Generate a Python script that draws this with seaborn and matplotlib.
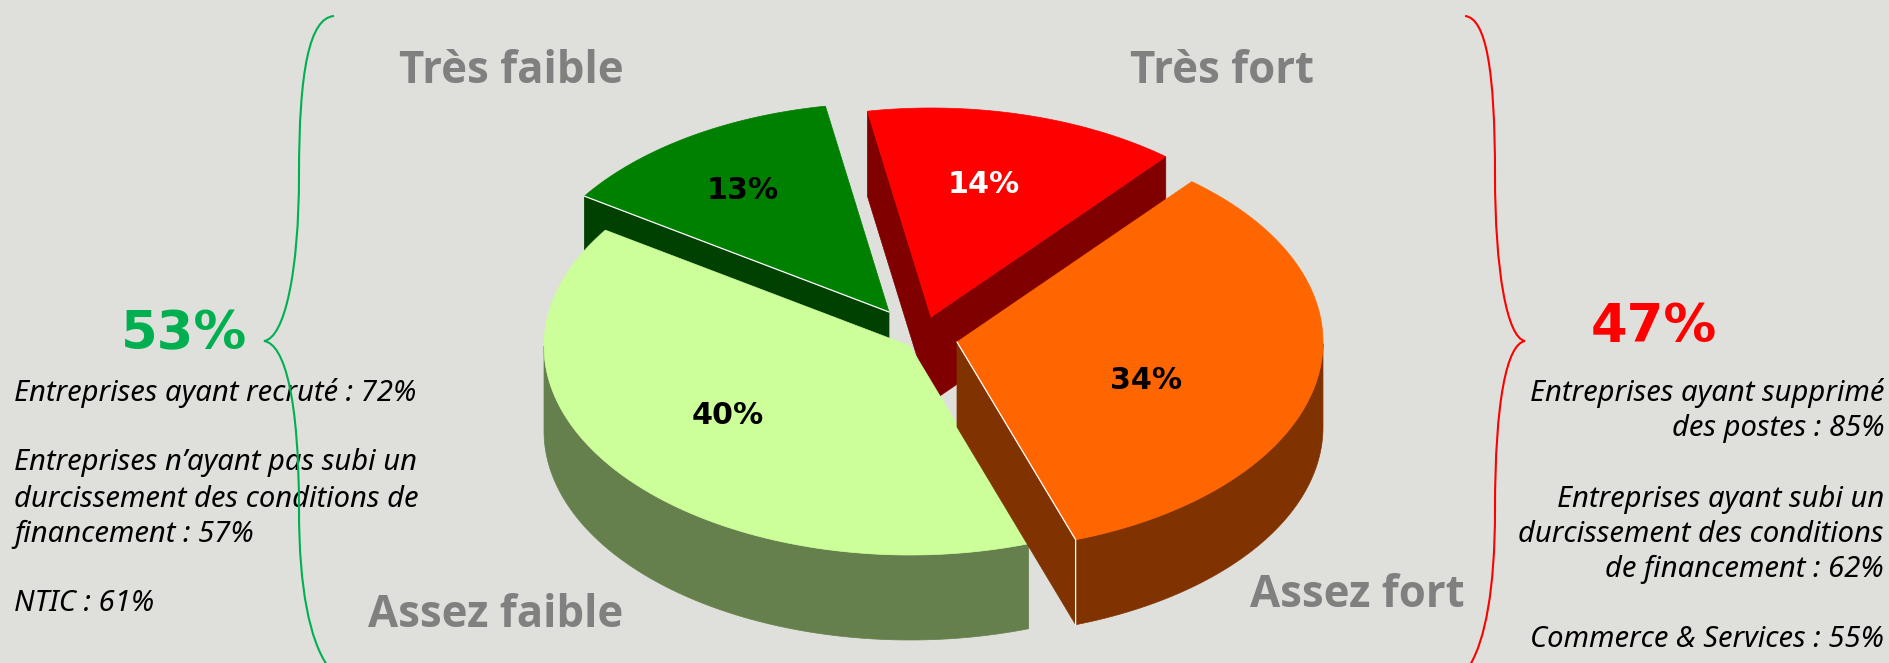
# 3D exploded pie: firms by level of difficulty, with summary text on each side

import numpy as np
import matplotlib
matplotlib.use("Agg")
import matplotlib.pyplot as plt
from matplotlib.patches import PathPatch, Polygon
from matplotlib.path import Path
import seaborn as sns

# Data
categories = ["Très fort", "Assez fort", "Assez faible", "Très faible"]
values = [14, 34, 40, 13]
value_labels = ["14%", "34%", "40%", "13%"]
left_total = "53%"
right_total = "47%"
left_lines = ["Entreprises ayant recruté : 72%",
              "Entreprises n’ayant pas subi un",
              "durcissement des conditions de",
              "financement : 57%",
              "NTIC : 61%"]
right_lines = ["Entreprises ayant supprimé",
               "des postes : 85%",
               "Entreprises ayant subi un",
               "durcissement des conditions",
               "de financement : 62%",
               "Commerce & Services : 55%"]

# Colours
bg = "#DFE0DB"
top_colors = sns.color_palette(["#FF0000", "#FF6600", "#CCFF99", "#008000"])
wall_colors = sns.color_palette(["#800000", "#803300", "#66804D", "#004000"])
value_colors = ["white", "black", "black", "black"]
grey = "#808080"
green = "#00B050"
red = "#FF0000"

# Layout, in pixels of the 1889x663 picture
rx, ry, depth = 366, 209, 85
start_angle = 100
slice_centres = [(931, 317), (957, 342), (910, 346), (889, 312)]
value_pos = [(984, 193), (1146, 389), (728, 424), (743, 199)]
cat_pos = [(1222, 83), (1357, 607), (496, 627), (511, 83)]
left_y = [401, 470, 507, 542, 611]
right_y = [401, 436, 507, 542, 577, 647]

sns.set_theme(style="white", rc={"figure.facecolor": bg, "axes.facecolor": bg})
plt.rcParams["font.family"] = ["Noto Sans", "DejaVu Sans"]
label_font = ["Open Sans", "DejaVu Sans"]

fig, ax = plt.subplots(figsize=(18.89, 6.63), dpi=100)
ax.set_position([0, 0, 1, 1])
ax.set_xlim(0, 1889)
ax.set_ylim(663, 0)
ax.axis("off")


def rim(centre, angles):
    a = np.radians(angles)
    return np.column_stack([centre[0] + rx * np.cos(a), centre[1] - ry * np.sin(a)])


def wall(points, color, z):
    low = points[::-1] + [0, depth]
    ax.add_patch(Polygon(np.vstack([points, low]), closed=True, fc=color, ec=color, lw=0.5, zorder=z))


# slice angles come from the values, running clockwise
shares = np.array(values) / sum(values) * 360
ends = start_angle - np.cumsum(shares)
starts = ends + shares

# painter's order: back slices first
for z, i in enumerate([3, 0, 2, 1]):
    centre = slice_centres[i]
    a0, a1 = starts[i], ends[i]
    arc = np.linspace(a0, a1, 200)
    outer = rim(centre, arc)
    apex = np.array(centre, dtype=float)
    z = z * 3 + 2

    # side walls that face the viewer
    if np.cos(np.radians(a0)) < 0:
        wall(np.array([apex, outer[0]]), wall_colors[i], z)
    if np.cos(np.radians(a1)) > 0:
        wall(np.array([apex, outer[-1]]), wall_colors[i], z)
    visible = np.sin(np.radians(arc)) <= 0
    if visible.any():
        wall(outer[visible], wall_colors[i], z)

    ax.add_patch(Polygon(np.vstack([apex, outer]), closed=True, fc=top_colors[i],
                         ec=top_colors[i], lw=0.5, zorder=z + 1))

    # thin white seams
    if categories[i] == "Assez fort":
        seam = outer[-1]
        ax.plot([apex[0], seam[0], seam[0]], [apex[1], seam[1], seam[1] + depth],
                color="white", lw=0.9, zorder=z + 2)
    if categories[i] == "Très faible":
        seam = outer[0]
        ax.plot([apex[0], seam[0]], [apex[1], seam[1]], color="white", lw=0.9, zorder=z + 2)

for label, pos, col in zip(value_labels, value_pos, value_colors):
    ax.text(pos[0], pos[1], label, color=col, fontsize=21.7, fontweight="bold", family="DejaVu Sans",
            ha="center", va="baseline", zorder=30)

for cat, pos in zip(categories, cat_pos):
    ax.text(pos[0], pos[1], cat, color=grey, fontsize=31.5, fontweight="bold", family=label_font,
            ha="center", va="baseline", zorder=30)

ax.text(184, 349, left_total, color=green, fontsize=38, fontweight="bold", family="DejaVu Sans",
        ha="center", va="baseline")
ax.text(1654, 342, right_total, color=red, fontsize=38, fontweight="bold", family="DejaVu Sans",
        ha="center", va="baseline")

for line, y in zip(left_lines, left_y):
    ax.text(14, y, line, color="black", fontsize=21, fontstyle="italic", ha="left", va="baseline")
for line, y in zip(right_lines, right_y):
    ax.text(1884, y, line, color="black", fontsize=21, fontstyle="italic", ha="right", va="baseline")


# curly braces
def brace(spine, tip, top_x, bottom_x, color):
    C = Path.CURVE4
    verts = [(top_x, 16), (spine + (top_x - spine) * 0.3, 18), (spine, 70), (spine, 175),
             (spine, 270), (spine + (tip - spine) * 0.4, 338), (tip, 341),
             (spine + (tip - spine) * 0.4, 344), (spine, 400), (spine, 510),
             (spine, 590), (spine + (bottom_x - spine) * 0.4, 640), (bottom_x, 665)]
    codes = [Path.MOVETO] + [C] * 12
    ax.add_patch(PathPatch(Path(verts, codes), fc="none", ec=color, lw=1.5, zorder=25))


brace(299, 264, 334, 327, green)
brace(1495, 1525, 1465, 1470, red)

fig.savefig("out.png", dpi=100, facecolor=bg)
